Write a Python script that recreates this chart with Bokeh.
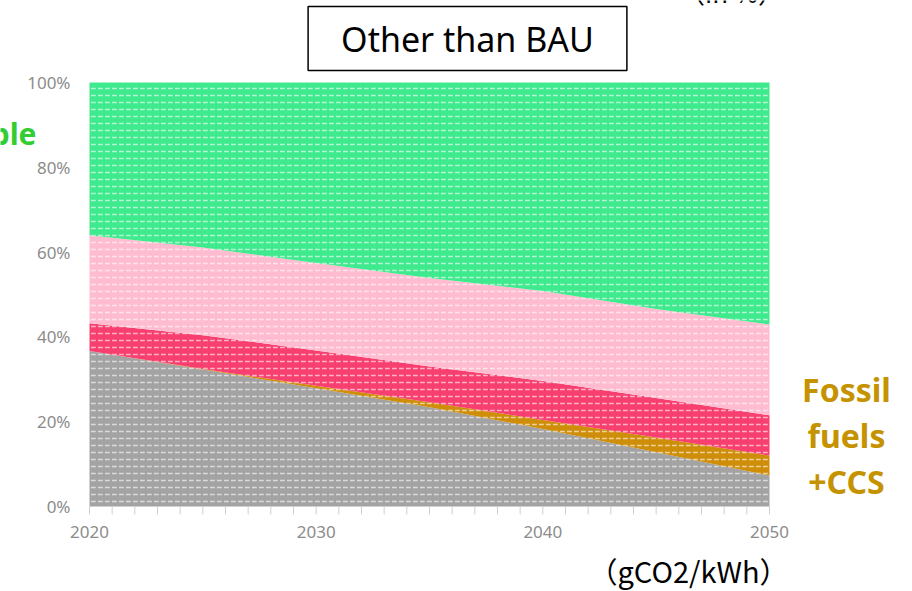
from bokeh.plotting import figure
from bokeh.models import Label, ColumnDataSource
from bokeh.core.properties import value
from bokeh.embed import file_html
from bokeh.resources import INLINE

# ---------------- data ----------------
years = [2020, 2025, 2030, 2035, 2040, 2045, 2050]
fossil = [36.7, 32.3, 27.9, 23.4, 18.3, 12.8, 7.3]
fossil_ccs = [0.0, 0.1, 0.6, 1.2, 2.1, 3.5, 4.7]
nuclear = [6.5, 8.0, 8.3, 8.4, 9.2, 9.3, 9.5]
hydrogen = [20.8, 20.7, 20.6, 20.9, 21.2, 21.0, 21.4]
renewable = [36.0, 38.9, 42.6, 46.1, 49.2, 53.4, 57.1]

series_names = ["fossil", "fossil_ccs", "nuclear", "hydrogen", "renewable"]
series_colors = ["#A3A3A3", "#CF8E0A", "#F7406F", "#FFBCD0", "#3FE98D"]
y_ticks = [0, 20, 40, 60, 80, 100]
y_tick_labels = ["0%", "20%", "40%", "60%", "80%", "100%"]
x_ticks = [2020, 2030, 2040, 2050]
x_tick_labels = ["2020", "2030", "2040", "2050"]
x_minor_ticks = list(range(2020, 2051))

# ---------------- layout (pixels) ----------------
W, H = 912, 591
FRAME_L, FRAME_R, FRAME_T, FRAME_B = 89, 769, 82, 506
X0, X1, Y0, Y1 = 2020, 2050, 0, 100
ppx = (FRAME_R - FRAME_L) / (X1 - X0)
ppy = (FRAME_B - FRAME_T) / (Y1 - Y0)
x_start = X0 - FRAME_L / ppx
x_end = x_start + W / ppx
y_start = Y0 - (H - FRAME_B) / ppy
y_end = y_start + H / ppy


def dx(px):
    return x_start + px / ppx


def dy(py):
    return y_start + (H - py) / ppy


source = ColumnDataSource(dict(year=years, fossil=fossil, fossil_ccs=fossil_ccs,
                               nuclear=nuclear, hydrogen=hydrogen, renewable=renewable))

p = figure(width=W, height=H, x_range=(x_start, x_end), y_range=(y_start, y_end),
           output_backend="svg", toolbar_location=None,
           x_axis_type=None, y_axis_type=None, min_border=0)
p.outline_line_color = None
p.grid.visible = False

p.varea_stack(stackers=series_names, x="year", source=source, color=series_colors,
              hatch_pattern="horizontal_dash", hatch_color="white", hatch_alpha=0.6,
              hatch_scale=7, hatch_weight=1.5)

# ---------------- x axis ----------------
tick_len = 8 / ppy
axis_color = "#D0D0D0"
p.line(x=[x_ticks[0], x_ticks[-1]], y=[0, 0], line_color=axis_color, line_width=1)
p.segment(x0=x_minor_ticks, y0=[0] * len(x_minor_ticks), x1=x_minor_ticks,
          y1=[-tick_len] * len(x_minor_ticks), line_color=axis_color, line_width=1)
p.text(x=x_ticks, y=[0] * len(x_ticks), text=x_tick_labels, y_offset=25,
       text_align="center", text_baseline="middle", text_font=value("Noto Sans"),
       text_font_size="17px", text_color="#8C8C8C")

# ---------------- y axis labels ----------------
p.text(x=[X0] * len(y_ticks), y=y_ticks, text=y_tick_labels, x_offset=-19,
       text_align="right", text_baseline="middle", text_font=value("Noto Sans"),
       text_font_size="17px", text_color="#8C8C8C")

# ---------------- annotations ----------------
p.add_layout(Label(x=dx(467), y=dy(38), text="Other than BAU", text_align="center",
                   text_baseline="middle", text_font="Noto Sans", text_font_size="34px",
                   text_color="black", border_line_color="black", border_line_width=1.5,
                   background_fill_color="white", padding=(33, 9)))

p.add_layout(Label(x=dx(731), y=dy(-9), text="（in %）", text_align="center",
                   text_baseline="middle", text_font="Noto Sans CJK JP",
                   text_font_size="26px", text_color="black"))

p.add_layout(Label(x=dx(36), y=dy(133), text="Renewable", text_align="right",
                   text_baseline="middle", text_font="Noto Sans", text_font_style="bold",
                   text_font_size="30px", text_color="#33CC33"))

for txt, py in [("Fossil", 389), ("fuels", 435), ("+CCS", 481)]:
    p.add_layout(Label(x=dx(846), y=dy(py), text=txt, text_align="center",
                       text_baseline="middle", text_font="Noto Sans", text_font_style="bold",
                       text_font_size="32px", text_color="#C59200"))

p.add_layout(Label(x=dx(688), y=dy(569), text="（gCO2/kWh）", text_align="center",
                   text_baseline="middle", text_font="Noto Sans CJK JP",
                   text_font_size="29px", text_color="black"))

p.add_layout(Label(x=dx(130), y=dy(596), text="300", text_align="center",
                   text_baseline="middle", text_font="Noto Sans",
                   text_font_size="17px", text_color="#8C8C8C"))

open("out.html", "w").write(file_html(p, INLINE))
